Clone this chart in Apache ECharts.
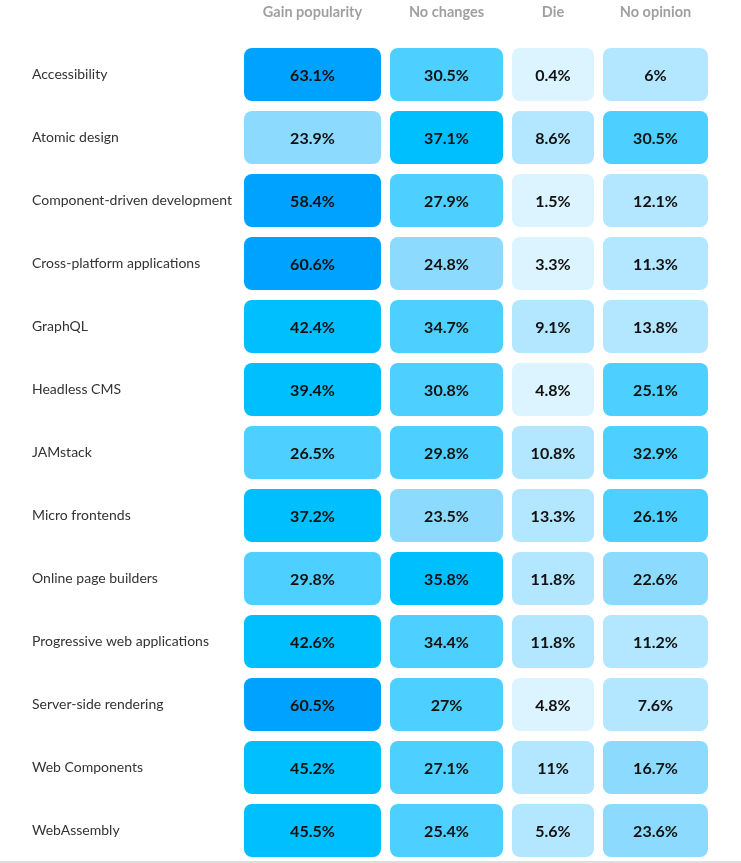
<!DOCTYPE html>
<html>
<head>
<meta charset="utf-8">
<script src="https://cdn.jsdelivr.net/npm/echarts@6/dist/echarts.min.js"></script>
<style>
html,body{margin:0;padding:0;background:#fff;}
#c{width:741px;height:863px;}
</style>
</head>
<body>
<div id="c"></div>
<script>
var categories = ['Accessibility','Atomic design','Component-driven development','Cross-platform applications','GraphQL','Headless CMS','JAMstack','Micro frontends','Online page builders','Progressive web applications','Server-side rendering','Web Components','WebAssembly'];
var columns = ['Gain popularity','No changes','Die','No opinion'];
var gainPopularity = [63.1,23.9,58.4,60.6,42.4,39.4,26.5,37.2,29.8,42.6,60.5,45.2,45.5];
var noChanges = [30.5,37.1,27.9,24.8,34.7,30.8,29.8,23.5,35.8,34.4,27,27.1,25.4];
var die = [0.4,8.6,1.5,3.3,9.1,4.8,10.8,13.3,11.8,11.8,4.8,11,5.6];
var noOpinion = [6,30.5,12.1,11.3,13.8,25.1,32.9,26.1,22.6,11.2,7.6,16.7,23.6];

// layout (column spans in x-axis units) and colour buckets
var colSpans = [[0,137],[146,259],[268,350],[359,464]];
var buckets = [[55,'#00a2ff'],[35,'#00bfff'],[25,'#4dcfff'],[15,'#8cdbff'],[5,'#b3e6ff'],[-1,'#dcf4ff']];
function colorFor(v){for(var i=0;i<buckets.length;i++){if(v>=buckets[i][0])return buckets[i][1];}return buckets[buckets.length-1][1];}

var seriesValues = [gainPopularity, noChanges, die, noOpinion];
var cells = [];
seriesValues.forEach(function(arr, c){arr.forEach(function(v, r){cells.push([c, r, v]);});});
var headerData = columns.map(function(n, c){return [c, 0];});

var chart = echarts.init(document.getElementById('c'));
chart.setOption({
  backgroundColor:'#fff',
  animation:false,
  grid:{left:244,right:33,top:43,bottom:1},
  xAxis:{type:'value',min:0,max:464,show:false},
  yAxis:{type:'category',data:categories,inverse:true,
    axisLine:{show:false},axisTick:{show:false},splitLine:{show:false},
    axisLabel:{align:'left',margin:212,color:'#333',fontSize:14,fontFamily:'Lato'}},
  graphic:[{type:'rect',left:0,top:861,shape:{width:741,height:2},style:{fill:'#dddddd'}}],
  series:[
    {type:'custom',clip:false,data:cells,encode:{x:-1,y:1},
     renderItem:function(params, api){
       var c=api.value(0), r=api.value(1), v=api.value(2);
       var span=colSpans[c];
       var p0=api.coord([span[0], r]);
       var p1=api.coord([span[1], r]);
       var bh=api.size([0,1])[1];
       var h=bh-10;
       return {type:'group',children:[
         {type:'rect',shape:{x:p0[0],y:p0[1]-h/2,width:p1[0]-p0[0],height:h,r:8},style:{fill:colorFor(v)}},
         {type:'text',style:{x:(p0[0]+p1[0])/2,y:p0[1]+1,text:v+'%',align:'center',verticalAlign:'middle',
           fill:'#111',font:'bold 16px Lato'}}
       ]};
     }},
    {type:'custom',clip:false,data:headerData,encode:{x:-1,y:1},
     renderItem:function(params, api){
       var c=api.value(0);
       var span=colSpans[c];
       var p0=api.coord([span[0], 0]);
       var p1=api.coord([span[1], 0]);
       var bh=api.size([0,1])[1];
       return {type:'text',style:{x:(p0[0]+p1[0])/2,y:p0[1]-bh/2-31,text:columns[c],align:'center',verticalAlign:'middle',
         fill:'#a0a0a0',font:'bold 14.5px Lato'}};
     }}
  ]
});
</script>
</body>
</html>
